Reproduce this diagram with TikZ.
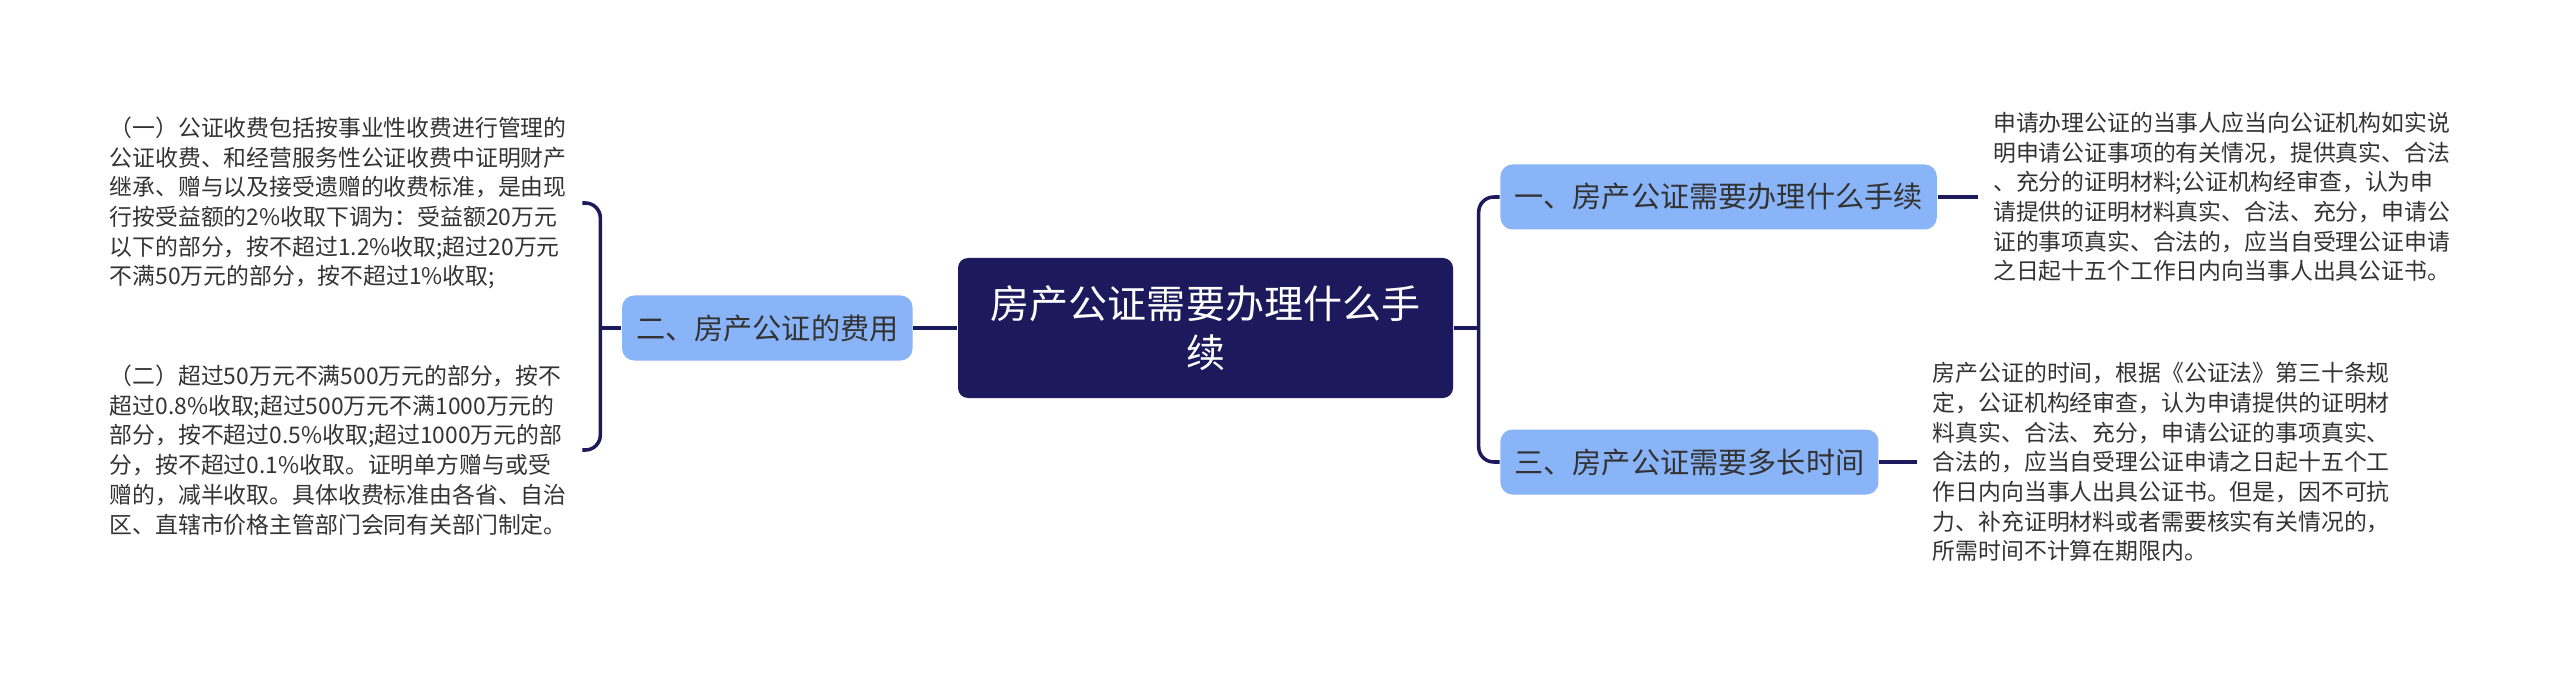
\documentclass[tikz,border=0pt]{standalone}
\usepackage{fontspec}
\setmainfont{Noto Sans CJK SC}
\usetikzlibrary{positioning}
\definecolor{navy}{HTML}{1C1A5C}
\definecolor{topicblue}{HTML}{8AB4F8}
\definecolor{inkgray}{HTML}{333333}

\begin{document}
\begin{tikzpicture}[node distance=0.44cm,
    root node/.style={rectangle,rounded corners=0.1cm,fill=navy,text=white,align=center,
      font=\fontsize{11.1pt}{13.9pt}\selectfont,minimum width=4.95cm,minimum height=1.40cm,inner sep=0pt},
    topic node/.style={rectangle,rounded corners=0.12cm,fill=topicblue,text=inkgray,
      font=\fontsize{8.3pt}{10pt}\selectfont,minimum height=0.65cm,inner xsep=0.14cm,inner ysep=0pt},
    note node/.style={text=inkgray,align=left,inner sep=0.15cm,
      font=\fontsize{6.5pt}{8.45pt}\selectfont},
    link/.style={draw=navy,line width=1pt}]

  \useasboundingbox (0,0) rectangle (25.6,-6.73);

  \node[root node] (root) at (12.055,-3.28) {房产公证需要办理什么手\\续};
  \node[topic node] (fee) [left=of root] {二、房产公证的费用};
  \node[topic node] (proc) [right=0.46cm of root, yshift=1.31cm] {一、房产公证需要办理什么手续};
  \node[topic node] (time) [right=0.46cm of root, yshift=-1.34cm] {三、房产公证需要多长时间};

  \node[note node] (fee1) [left=0.39cm of fee, yshift=1.25cm]
    {（一）公证收费包括按事业性收费进行管理的\\公证收费、和经营服务性公证收费中证明财产\\继承、赠与以及接受遗赠的收费标准，是由现\\行按受益额的2\%收取下调为：受益额20万元\\以下的部分，按不超过1.2\%收取;超过20万元\\不满50万元的部分，按不超过1\%收取;};
  \node[note node] (fee2) [left=0.39cm of fee, yshift=-1.22cm]
    {（二）超过50万元不满500万元的部分，按不\\超过0.8\%收取;超过500万元不满1000万元的\\部分，按不超过0.5\%收取;超过1000万元的部\\分，按不超过0.1\%收取。证明单方赠与或受\\赠的，减半收取。具体收费标准由各省、自治\\区、直辖市价格主管部门会同有关部门制定。};
  \node[note node] (proc1) [right=0.40cm of proc]
    {申请办理公证的当事人应当向公证机构如实说\\明申请公证事项的有关情况，提供真实、合法\\、充分的证明材料;公证机构经审查，认为申\\请提供的证明材料真实、合法、充分，申请公\\证的事项真实、合法的，应当自受理公证申请\\之日起十五个工作日内向当事人出具公证书。};
  \node[note node] (time1) [right=0.38cm of time]
    {房产公证的时间，根据《公证法》第三十条规\\定，公证机构经审查，认为申请提供的证明材\\料真实、合法、充分，申请公证的事项真实、\\合法的，应当自受理公证申请之日起十五个工\\作日内向当事人出具公证书。但是，因不可抗\\力、补充证明材料或者需要核实有关情况的，\\所需时间不计算在期限内。};

  \path
    (root) edge[link] (fee)
    (proc) edge[link] (proc1)
    (time) edge[link] (time1);

  % brackets
  \draw[link] (fee.west) -- ++(-0.21,0) coordinate (lj);
  \draw[link,rounded corners=0.15cm] (fee1.east) -| (lj) |- (fee2.east);
  \draw[link] (root.east) -- ++(0.25,0) coordinate (rj);
  \draw[link,rounded corners=0.15cm] (proc.west) -| (rj) |- (time.west);
\end{tikzpicture}
\end{document}
